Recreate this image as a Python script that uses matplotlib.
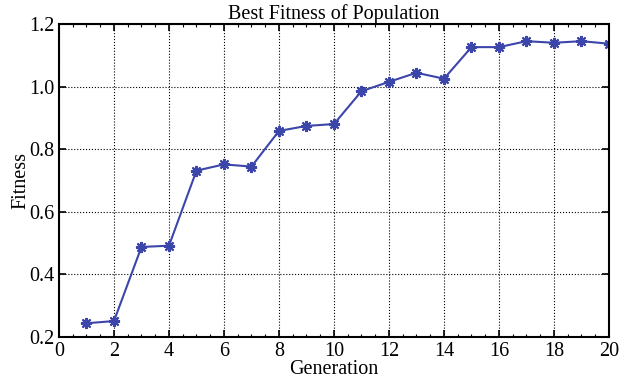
import matplotlib
matplotlib.use('Agg')
import matplotlib.pyplot as plt
import numpy as np
from matplotlib.ticker import MultipleLocator

generation = np.arange(1, 21)
fitness = [0.243, 0.250, 0.487, 0.491, 0.731, 0.751, 0.744, 0.858, 0.874, 0.880,
           0.985, 1.015, 1.044, 1.025, 1.126, 1.126, 1.145, 1.140, 1.145, 1.137]

plt.rcParams['font.family'] = ['Liberation Serif', 'DejaVu Serif']
plt.rcParams['font.size'] = 14.5

fig = plt.figure(figsize=(6.26, 3.79), dpi=100)
ax = fig.add_axes([0.0942, 0.1116, 0.8786, 0.8251])

ax.plot(generation, fitness, color='#3c46aa', linewidth=1.5,
        marker=(8, 2, 0), markersize=8, markeredgewidth=1.5)

ax.set_xlim(0, 20)
ax.set_ylim(0.2, 1.2)
ax.xaxis.set_major_locator(MultipleLocator(2))
ax.xaxis.set_minor_locator(MultipleLocator(0.5))
ax.yaxis.set_major_locator(MultipleLocator(0.2))
ax.set_yticklabels(['%.1f' % v for v in ax.get_yticks()])

ax.grid(True, linestyle=':', color='black', linewidth=0.8)
ax.tick_params(direction='in', top=True, right=True, length=5, width=1.2)
ax.tick_params(axis='x', pad=4)
ax.tick_params(axis='y', pad=3)
ax.tick_params(which='minor', direction='in', top=True, length=2.5, width=0.8)
for s in ax.spines.values():
    s.set_linewidth(1.5)

ax.set_title('Best Fitness of Population', fontsize=14.5, pad=1)
ax.set_xlabel('Generation', labelpad=-1)
ax.set_ylabel('Fitness', labelpad=-1)

fig.savefig('out.png', dpi=100)
